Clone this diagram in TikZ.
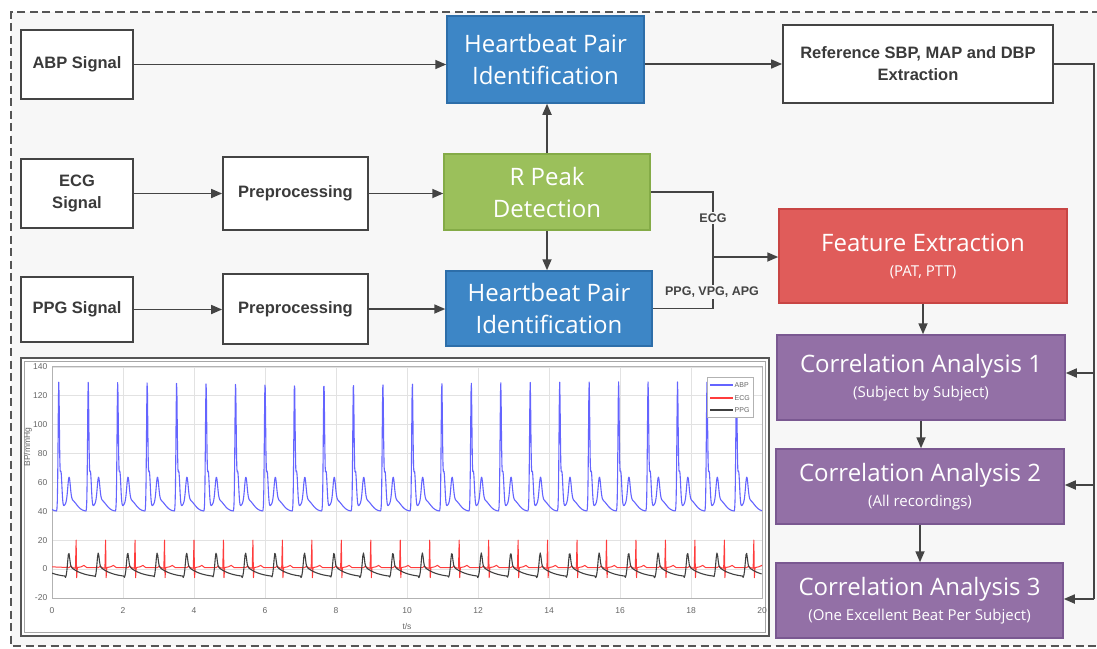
\documentclass[tikz,border=0pt]{standalone}
\usepackage{fontspec}
\usepackage{tikz}
\usetikzlibrary{arrows.meta, positioning, calc}
\setmainfont{Open Sans}
\newfontfamily\labelfont{Liberation Sans}
\definecolor{PaperGray}{HTML}{F7F7F7}
\definecolor{InkGray}{HTML}{444444}
\definecolor{FrameGray}{HTML}{555555}
\definecolor{BoxBlue}{HTML}{3D86C6}
\definecolor{BoxBlueEdge}{HTML}{2D6EA9}
\definecolor{LeafGreen}{HTML}{9BC05B}
\definecolor{LeafGreenEdge}{HTML}{84AB47}
\definecolor{CoralRed}{HTML}{E05C5A}
\definecolor{CoralRedEdge}{HTML}{C84544}
\definecolor{Plum}{HTML}{9370A6}
\definecolor{PlumEdge}{HTML}{7A5891}
\definecolor{AbpBlue}{HTML}{6464FF}
\definecolor{EcgRed}{HTML}{FF3C3C}
\definecolor{PpgGray}{HTML}{404040}
\definecolor{GridGray}{HTML}{E2E2E2}
\definecolor{TickGray}{HTML}{666666}

\tikzset{
  plainbox/.style={draw=InkGray, line width=1.8pt, fill=white, align=center,
    inner sep=0pt, text=InkGray!85!black,
    font=\labelfont\bfseries\fontsize{16.5}{22}\selectfont},
  colorbox/.style={line width=1.5pt, align=center, inner sep=0pt, text=white,
    font=\fontsize{24}{32}\selectfont},
  bluebox/.style={colorbox, fill=BoxBlue, draw=BoxBlueEdge},
  greenbox/.style={colorbox, fill=LeafGreen, draw=LeafGreenEdge},
  redbox/.style={colorbox, fill=CoralRed, draw=CoralRedEdge},
  plumbox/.style={colorbox, fill=Plum, draw=PlumEdge},
  wire/.style={draw=InkGray, line width=1.7pt},
  conn/.style={wire, -{Triangle[length=11pt,width=9pt]}},
  siglabel/.style={fill=PaperGray, inner sep=1.5pt, text=InkGray,
    font=\labelfont\bfseries\fontsize{12.5}{14}\selectfont},
  gridline/.style={GridGray, line width=0.6pt},
  ticklabel/.style={text=TickGray, inner sep=1pt,
    font=\labelfont\fontsize{8.5}{10}\selectfont},
  legendlabel/.style={text=TickGray, inner sep=0.5pt,
    font=\labelfont\fontsize{7}{8}\selectfont},
}
\newcommand{\subline}[1]{{\fontsize{15}{18}\selectfont #1}}

\begin{document}
\begin{tikzpicture}[x=1pt, y=-1pt,
  declare function={
    gauss(\z)=exp(-min((\z)*(\z),20));
    abpbeat(\s)=40+86*gauss((\s-0.06)/0.025)+26*gauss((\s-0.12)/0.04)
               +16*gauss((\s-0.35)/0.05)+8*gauss((\s-0.4)/0.22);
    ppgbeat(\s)=-6+11*gauss((\s-0.1)/0.04)
               +7*exp(-max(\s-0.18,0)/0.35)*(1-gauss(\s/0.07));
  }]
\useasboundingbox (0,0) rectangle (1097,648);

% background and dashed frame
\fill[PaperGray] (11,12) rectangle (1097,646);
\draw[FrameGray, line width=1.5pt, dash pattern=on 8pt off 4.5pt]
  (1100,12) -- (11,12) -- (11,646) -- (1100,646);

% input column
\node[plainbox, minimum width=112pt, minimum height=69pt] (abp) at (77,64.5) {ABP Signal};
\node[plainbox, minimum width=112pt, minimum height=69pt] (ecg) at (77,193.5) {ECG\\Signal};
\node[plainbox, minimum width=112pt, minimum height=65pt] (ppg) at (77,309.5) {PPG Signal};

\node[plainbox, minimum width=145pt, minimum height=73pt] (prep1) at (295.5,193.5) {Preprocessing};
\node[plainbox, minimum width=145pt, minimum height=70pt] (prep2) at (295.5,309) {Preprocessing};

% processing blocks
\node[bluebox, minimum width=197pt, minimum height=87pt] (hpiA) at (545.5,59.5) {Heartbeat Pair\\Identification};
\node[greenbox, minimum width=206pt, minimum height=76pt] (rpeak) at (547,192) {R Peak\\Detection};
\node[bluebox, minimum width=206pt, minimum height=75pt] (hpiB) at (549,308.5) {Heartbeat Pair\\Identification};

\node[plainbox, minimum width=270pt, minimum height=78pt] (ref) at (918,64) {Reference SBP, MAP and DBP\\Extraction};
\node[redbox, minimum width=288pt, minimum height=94pt] (feat) at (923,256) {Feature Extraction\\[-7pt]\subline{(PAT, PTT)}};

\node[plumbox, minimum width=288pt, minimum height=85pt] (ca1) at (921,377.5) {Correlation Analysis 1\\[-7pt]\subline{(Subject by Subject)}};
\node[plumbox, minimum width=288pt, minimum height=75pt] (ca2) at (920,486.5) {Correlation Analysis 2\\[-7pt]\subline{(All recordings)}};
\node[plumbox, minimum width=287pt, minimum height=75pt] (ca3) at (919.5,600.5) {Correlation Analysis 3\\[-7pt]\subline{(One Excellent Beat Per Subject)}};

% connectors
\draw[conn] (abp) -- (abp -| hpiA.west);
\draw[conn] (hpiA.east |- ref.west) -- (ref.west);
\draw[conn] (ecg) -- (prep1);
\draw[conn] (prep1) -- (prep1 -| rpeak.west);
\draw[conn] (ppg.east) -- (ppg.east -| prep2.west);
\draw[conn] (prep2) -- (prep2 -| hpiB.west);
\draw[conn] (rpeak.north) -- (rpeak.north |- hpiA.south);
\draw[conn] (rpeak.south) -- (rpeak.south |- hpiB.north);

\coordinate (merge) at (713,257);
\draw[wire] (rpeak.east) -| (merge);
\draw[wire] (hpiB.east) -| (merge);
\draw[conn] (merge) -- (merge -| feat.west);
\node[siglabel] (ecglbl) at (713,218) {ECG};
\node[siglabel] (ppglbl) at (712,292) {PPG, VPG, APG};

\draw[conn] (feat.south) -- (feat.south |- ca1.north);
\draw[conn] (ca1.south) -- (ca1.south |- ca2.north);
\draw[conn] (ca2.south) -- (ca2.south |- ca3.north);

\coordinate (busTop) at (1094,64);
\coordinate (bus1) at (1094,373);
\coordinate (bus2) at (1094,485);
\coordinate (bus3) at (1094,599);
\draw[wire] (ref.east) -- (busTop) -- (bus3);
\draw[conn] (bus1) -- (bus1 -| ca1.east);
\draw[conn] (bus2) -- (bus2 -| ca2.east);
\draw[conn] (bus3) -- (bus3 -| ca3.east);

% recorded signals
\draw[FrameGray, line width=2pt, fill=white] (21,358) rectangle (769,636);
\draw[black!35, line width=0.6pt] (24.5,361.5) rectangle (765.5,632.5);
\begin{scope}[shift={(52pt,-569pt)}, x=35.5pt, y=1.444pt]
  \foreach \t in {0,2,...,20} \draw[gridline] (\t,-20) -- (\t,140);
  \foreach \v in {-20,0,...,140} \draw[gridline] (0,\v) -- (20,\v);
  \draw[black!30, line width=0.7pt] (0,-20) rectangle (20,140);
  \foreach \t in {0,2,...,20}
    \node[ticklabel] (xt\t) at (\t,-29) {\t};
  \foreach \v in {-20,0,...,140}
    \node[ticklabel, anchor=east] (yt\v) at (-0.1,\v) {\v};
  \node[ticklabel] (xname) at (10,-39.5) {t/s};
  \node[ticklabel, rotate=90] (yname) at (-0.68,84.5) {BP/mmHg};
  \begin{scope}
    \clip (0,-20) rectangle (20,140);
    \draw[AbpBlue, line width=1.1pt, line join=round]
      plot[domain=0:20, samples=2001] (\x, {abpbeat(mod(\x+8.17,0.83))});
    \draw[EcgRed, line width=1pt, line join=round] (0,1.5)
      \foreach \k [evaluate=\k as \r using 0.68+0.83*\k] in {0,...,23} {
        -- (\r-0.2,1) -- (\r-0.15,2) -- (\r-0.1,1) -- (\r-0.02,0.5)
        -- (\r,20) -- (\r+0.015,-6) -- (\r+0.035,1) -- (\r+0.14,1.5)
        -- (\r+0.22,2.5) -- (\r+0.3,1)};
    \draw[PpgGray, line width=1.1pt, line join=round]
      plot[domain=0:20, samples=1001] (\x, {ppgbeat(mod(\x+7.93,0.83))});
  \end{scope}
\end{scope}

% legend
\draw[black!30, fill=white, line width=0.6pt] (707,377) rectangle (753,417);
\foreach \n/\c/\yy in {ABP/AbpBlue/385, ECG/EcgRed/398, PPG/PpgGray/410} {
  \draw[color=\c, line width=1.2pt] (710,\yy) -- (733,\yy);
  \node[legendlabel, anchor=west] (leg\n) at (734,\yy) {\n};
}
\end{tikzpicture}
\end{document}
